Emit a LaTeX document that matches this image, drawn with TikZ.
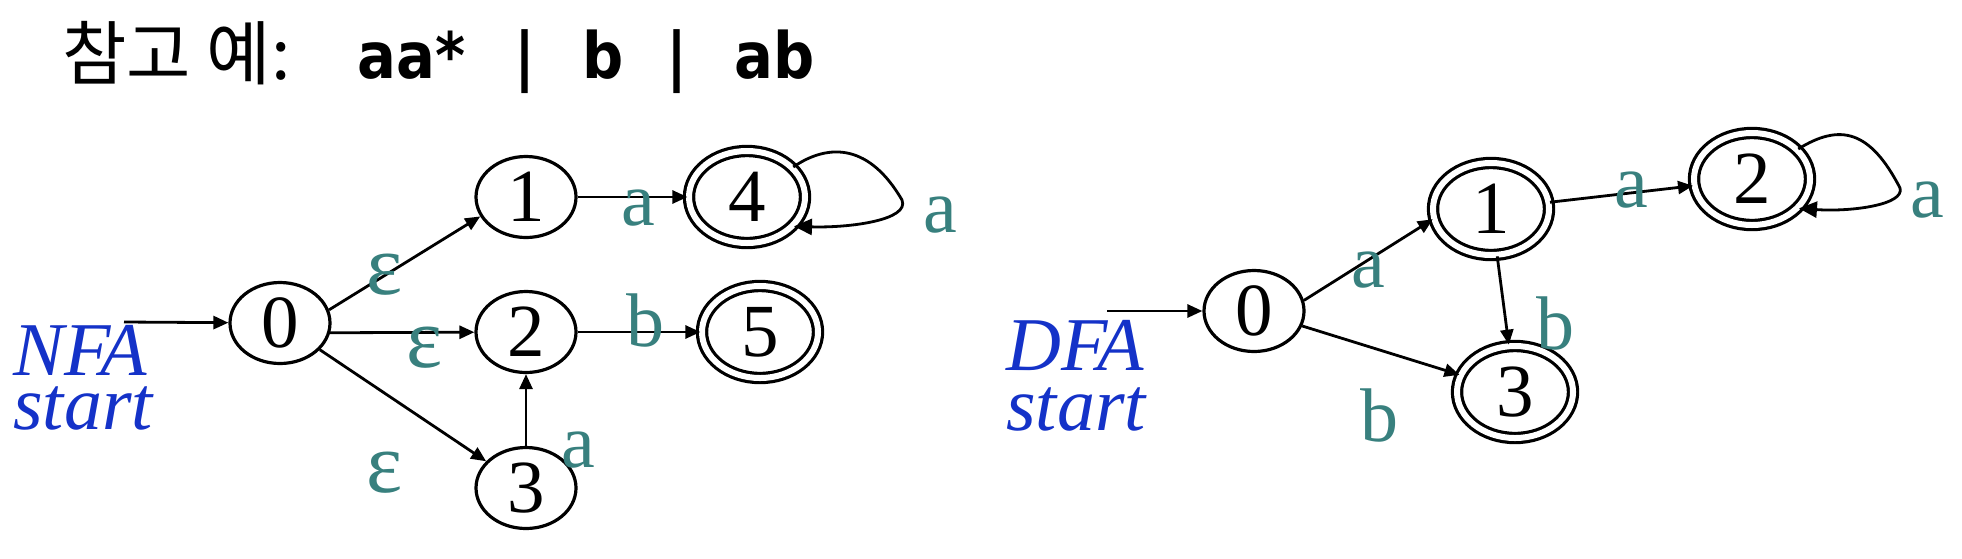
\documentclass[tikz,border=0pt]{standalone}
\usepackage{fontspec}
\setmainfont{Liberation Serif}
\newfontfamily\hangulfont{Noto Sans CJK KR}
\newfontfamily\regexfont{DejaVu Sans}[FakeStretch=0.9]
\usetikzlibrary{calc}
\usetikzlibrary{arrows.meta}
\usetikzlibrary{shapes.geometric}
\definecolor{lblteal}{RGB}{56,128,126}
\definecolor{fablue}{RGB}{20,50,200}

\begin{document}
\begin{tikzpicture}[x=0.5pt,y=-0.5pt]
  \tikzset{myedge/.style={->, line width=1.4pt, >={Triangle[length=7.5pt,width=6.5pt]}}};
  \tikzset{myloop/.style={myedge, >={Triangle[length=9pt,width=8pt]}}};
  \tikzset{mynode/.style={ellipse, draw=black, line width=1.6pt, inner sep=0pt, minimum width=50pt, minimum height=40.5pt, font=\fontsize{37.5}{40}\selectfont}};
  \tikzset{myfinal/.style={mynode, double, double distance=3pt, minimum width=58pt, minimum height=46pt}};
  \tikzset{mylabel/.style={inner sep=0pt, text=lblteal, font=\fontsize{38}{40}\selectfont}};
  \tikzset{myeps/.style={mylabel, font=\fontsize{43}{44}\selectfont}};
  \tikzset{mykind/.style={anchor=north west, inner sep=0pt, align=left, text=fablue, font=\fontsize{38}{27}\selectfont\itshape}};

  \useasboundingbox (0,0) rectangle (1962,558);

  \node[anchor=base west, inner sep=0pt, font=\fontsize{35}{40}\hangulfont] (ttl) at (62,79) {참고 예:};
  \node[anchor=base west, inner sep=0pt, font=\fontsize{32}{40}\regexfont\bfseries] (rgx) at (357,78)
    {aa*\hspace{24.5pt}|\hspace{23.7pt}b\hspace{21.2pt}|\hspace{23.5pt}ab};

  % NFA
  \node[mynode] (n0) at (280,323) {0};
  \node[mynode] (n1) at (526,197) {1};
  \node[mynode] (n2) at (526,332) {2};
  \node[mynode] (n3) at (526,488) {3};
  \node[myfinal] (n4) at (747,197) {4};
  \node[myfinal] (n5) at (760,332) {5};
  \node[mykind] (nfa) at (13,325) {NFA\\start};
  \coordinate (nin) at (124,322);

  \draw[myedge] (nin) -- (n0);
  \draw[myedge] (n0.15) -- (n1.203);
  \draw[myedge] (n0.-11) -- (n2);
  \draw[myedge] (n0) -- (n3);
  \draw[myedge] (n1) -- (n4);
  \draw[myedge] (n2) -- (n5);
  \draw[myedge] (n3) -- (n2);
  \coordinate (l4) at (902,200);
  \draw[myloop] (n4.33) .. controls (830,142) and (870,145) .. (l4) .. controls (910,220) and (850,228) .. (n4.-32);

  \node[myeps] (e01) at (385,275) {ε};
  \node[myeps] (e02) at (425,348) {ε};
  \node[myeps] (e03) at (385,473) {ε};
  \node[mylabel] (a14) at (638,208) {a};
  \node[mylabel] (b25) at (645,320) {b};
  \node[mylabel] (a32) at (578,450) {a};
  \node[mylabel] (a44) at (940,215) {a};

  % DFA
  \node[mynode] (d0) at (1254,311) {0};
  \node[myfinal] (d1) at (1491,209) {1};
  \node[myfinal] (d2) at (1752,179) {2};
  \node[myfinal] (d3) at (1515,392) {3};
  \node[mykind] (dfa) at (1006,320) {DFA\\[3pt]start};
  \coordinate (din) at (1107,311);

  \draw[myedge] (din) -- (d0);
  \draw[myedge] (d0.12) -- (d1.190);
  \draw[myedge] (d0) -- (d3);
  \draw[myedge] (d1) -- (d2);
  \draw[myedge] (d1) -- (d3);
  \coordinate (l2) at (1900,188);
  \draw[myloop] (d2.33) .. controls (1840,123) and (1870,130) .. (l2) .. controls (1905,205) and (1850,212) .. (d2.-32);

  \node[mylabel] (a01) at (1368,270) {a};
  \node[mylabel] (a12) at (1631,190) {a};
  \node[mylabel] (b13) at (1555,323) {b};
  \node[mylabel] (b03) at (1379,415) {b};
  \node[mylabel] (a22) at (1927,200) {a};
\end{tikzpicture}
\end{document}
